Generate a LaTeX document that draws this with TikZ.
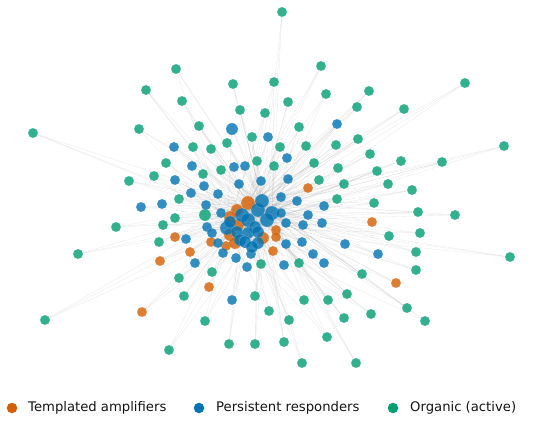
\documentclass[tikz,border=0pt]{standalone}
\usepackage{fontspec}
\setmainfont{DejaVu Sans}
\usetikzlibrary{backgrounds}
\definecolor{amporange}{RGB}{213,94,0}
\definecolor{respblue}{RGB}{0,114,178}
\definecolor{orggreen}{RGB}{0,158,115}

\begin{document}
\begin{tikzpicture}[x=1pt, y=-1pt,
  dot/.style={circle, inner sep=0pt, minimum size=10pt, fill opacity=0.8, draw=white, line width=0.2pt, draw opacity=0.4},
  amp/.style={dot, fill=amporange},
  resp/.style={dot, fill=respblue},
  org/.style={dot, fill=orggreen},
  big/.style={minimum size=14pt},
  core/.style={minimum size=12pt},
  edge/.style={black!40, line width=0.35pt, draw opacity=0.2},
  keydot/.style={circle, inner sep=0pt, minimum size=10.5pt},
  keytext/.style={font=\fontsize{13.2}{15}\selectfont, anchor=west, inner sep=0pt, text=black!92}]
  \useasboundingbox (0,0) rectangle (550,424);

  % organic accounts
  \foreach \i/\x/\y in {1/176/69, 2/146/90, 3/233/84, 4/274/82, 5/182/101, 6/240/110,
    7/265/113, 8/199/126, 9/139/129, 10/33/133, 11/252/137, 12/193/147, 13/211/149,
    14/227/143, 15/166/163, 16/257/161, 17/274/166, 18/203/174, 19/221/170, 20/154/176,
    21/129/181, 22/282/12, 23/321/66, 24/465/83, 25/326/94, 26/369/91, 27/288/102,
    28/357/107, 29/404/109, 30/299/127, 31/280/147, 32/306/146, 33/336/145, 34/358/139,
    35/504/146, 36/370/154, 37/314/163, 38/338/168, 39/401/161, 40/442/162, 41/377/171,
    42/319/180, 43/179/199, 45/175/218, 46/116/227, 47/163/225, 48/159/242,
    49/78/254, 50/261/264, 51/212/272, 52/179/278, 53/184/296, 54/255/296, 55/269/311,
    56/45/320, 57/205/321, 58/229/344, 59/255/344, 60/169/350, 61/344/184, 62/388/184,
    63/412/190, 64/337/199, 65/374/203, 66/418/212, 67/455/215, 68/420/233, 69/389/236,
    70/416/252, 71/510/257, 72/299/263, 73/362/274, 74/416/270, 75/347/294, 76/304/300,
    77/328/300, 78/407/308, 79/371/314, 80/344/318, 81/425/321, 82/289/320, 83/284/342,
    84/327/337, 85/302/363, 86/356/363}
    \node[org] (org\i) at (\x,\y) {};
  \node[org, core] (org44) at (205,215) {};

  % templated amplifiers
  \foreach \i/\x/\y in {1/308/188, 2/175/237, 3/211/242, 4/226/246, 5/190/252, 6/160/261,
    7/209/287, 8/142/312, 9/372/222, 10/276/230, 11/276/237, 12/273/251, 13/396/283}
    \node[amp] (amp\i) at (\x,\y) {};
  \foreach \i/\x/\y in {14/237/210, 15/230/217, 16/238/225, 17/230/235, 18/263/238, 19/235/243}
    \node[amp, core] (amp\i) at (\x,\y) {};

  % hubs in the core
  \foreach \i/\x/\y/\kind in {5/248/203/amp, 0/258/210/resp, 1/272/213/resp, 2/242/215/resp,
    3/267/220/resp, 4/227/228/resp, 6/262/201/resp, 7/248/220/resp}
    \node[\kind, big] (hub\i) at (\x,\y) {};

  % persistent responders
  \node[resp, core] (resp1) at (232,129) {};
  \foreach \i/\x/\y in {2/268/137, 3/174/147, 4/192/166, 5/234/167, 6/245/166, 7/175/180,
    8/261/181, 9/337/124, 10/287/158, 11/288/179, 12/204/186, 13/239/184, 14/191/193,
    15/218/194, 16/141/207, 17/162/204, 18/206/205, 19/221/213, 20/207/227, 21/212/233,
    22/186/239, 23/218/243, 24/223/253, 25/236/258, 26/251/254, 27/195/263, 28/247/267,
    29/232/300, 30/281/197, 31/297/201, 32/324/206, 33/308/215, 34/281/213, 35/286/223,
    36/303/225, 37/322/223, 38/286/244, 39/302/242, 40/345/244, 41/313/254, 42/324/263,
    43/378/254, 44/284/265}
    \node[resp] (resp\i) at (\x,\y) {};
  \foreach \i/\x/\y in {45/230/222, 46/255/227, 47/237/232, 48/248/233, 49/258/232,
    50/240/240, 51/245/242, 52/258/243, 53/252/247}
    \node[resp, core] (resp\i) at (\x,\y) {};

  % links
  \begin{scope}[on background layer]
    \foreach \n/\k in {org/86, amp/19, resp/53}
      \foreach \i in {1,...,\k} {
        \pgfmathtruncatemacro\ha{mod(\i,8)}
        \pgfmathtruncatemacro\hb{mod(\i+3,8)}
        \pgfmathtruncatemacro\hc{mod(\i+5,8)}
        \draw[edge] (\n\i) -- (hub\ha);
        \draw[edge] (\n\i) -- (hub\hb);
        \draw[edge] (\n\i) -- (hub\hc);
      }
  \end{scope}

  % legend
  \node[keydot, fill=amporange] (keyamp) at (12,408) {};
  \node[keytext] (txtamp) at (28,408) {Templated amplifiers};
  \node[keydot, fill=respblue] (keyresp) at (199,408) {};
  \node[keytext] (txtresp) at (216,408) {Persistent responders};
  \node[keydot, fill=orggreen] (keyorg) at (393,408) {};
  \node[keytext] (txtorg) at (410,408) {Organic (active)};
\end{tikzpicture}
\end{document}
